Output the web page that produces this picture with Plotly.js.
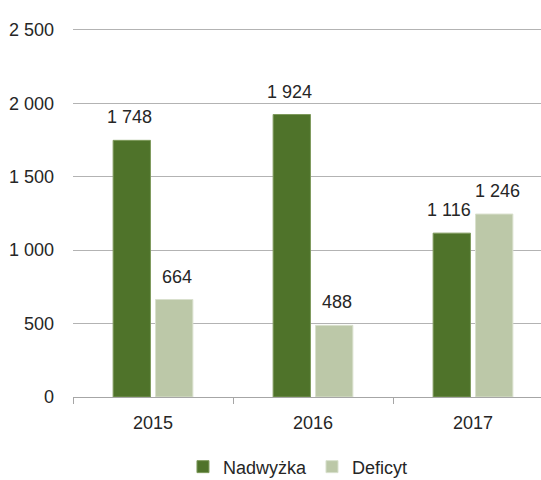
<!DOCTYPE html>
<html><head><meta charset="utf-8">
<script src="https://cdn.plot.ly/plotly-3.0.1.min.js"></script>
<style>html,body{margin:0;padding:0;background:#fff}#chart{width:541px;height:480px}</style>
</head><body><div id="chart"></div>
<script>
const years = ['2015', '2016', '2017'];
const nadwyzka = [1748, 1924, 1116];
const deficyt = [664, 488, 1246];
const seriesNames = ['Nadwyżka', 'Deficyt'];
const yTicks = [0, 500, 1000, 1500, 2000, 2500];

const fmt = v => String(v).replace(/\B(?=(\d{3})+(?!\d))/g, ' ');
const fontFam = '"Liberation Sans", Arial, sans-serif';
const txtColor = '#262626';
const fs = 18;

const traces = [
  {type: 'bar', name: seriesNames[0], x: years, y: nadwyzka,
   marker: {color: '#4F732A', line: {color: '#7E9A5C', width: 1}}},
  {type: 'bar', name: seriesNames[1], x: years, y: deficyt,
   marker: {color: '#BCC8A8', line: {color: '#D9E0CD', width: 1}}}
];

const annotations = [];
[nadwyzka, deficyt].forEach((arr, si) => {
  arr.forEach((v, i) => {
    annotations.push({
      x: i, y: v, xref: 'x', yref: 'y', text: fmt(v), showarrow: false,
      xanchor: 'center', yanchor: 'bottom', yshift: 11,
      xshift: si === 0 ? -24 : 24,
      font: {family: fontFam, size: fs, color: txtColor}
    });
  });
});

const layout = {
  width: 541, height: 480,
  margin: {l: 73, r: 0, t: 27, b: 83, autoexpand: false},
  paper_bgcolor: '#fff', plot_bgcolor: '#fff',
  font: {family: fontFam, size: fs, color: txtColor},
  barmode: 'group', bargap: 0.47, bargroupgap: 0.12,
  showlegend: true,
  legend: {orientation: 'h', x: 0.235, xanchor: 'left', y: -0.189, yanchor: 'middle',
           font: {family: fontFam, size: fs, color: txtColor}, itemwidth: 30,
           traceorder: 'normal'},
  xaxis: {type: 'category', range: [-0.5, 2.425], showgrid: false, automargin: false,
          showline: true, linecolor: '#A6A6A6', linewidth: 1,
          ticks: 'outside', tickson: 'boundaries', ticklen: 6, tickcolor: '#A6A6A6',
          ticklabelstandoff: 9, zeroline: false, fixedrange: true},
  yaxis: {range: [0, 2520], tickvals: yTicks, ticktext: yTicks.map(fmt), automargin: false,
          showgrid: true, gridcolor: '#B3B3B3', gridwidth: 1, zeroline: false,
          showline: false, ticks: '', ticklabelstandoff: 18, fixedrange: true},
  annotations: annotations
};

Plotly.newPlot('chart', traces, layout, {staticPlot: true, displayModeBar: false});
</script></body></html>
